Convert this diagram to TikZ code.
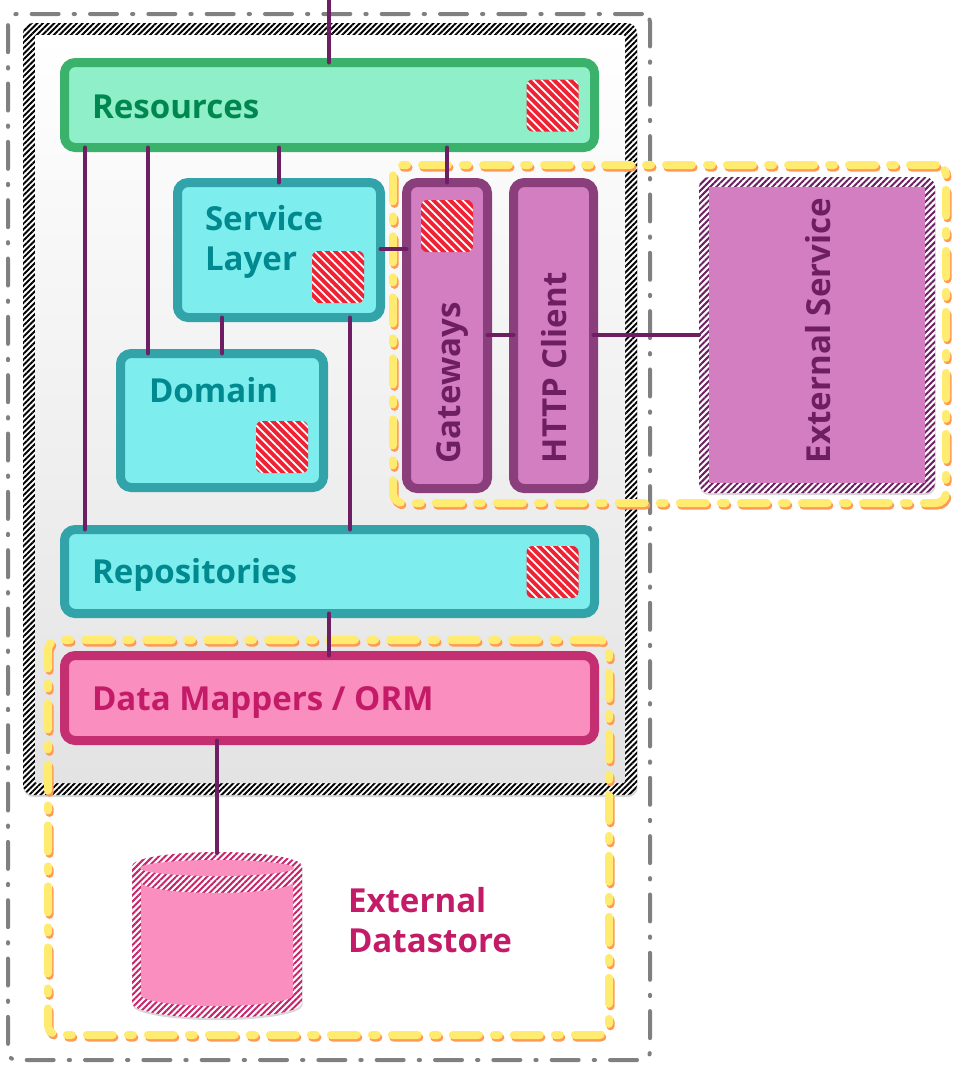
\documentclass[tikz,border=0pt]{standalone}
\usepackage{fontspec}
\setmainfont{Open Sans}
\usetikzlibrary{patterns.meta,shadows}
\definecolor{resfill}{HTML}{8EEFC9}
\definecolor{resdraw}{HTML}{3BB26B}
\definecolor{restext}{HTML}{00874F}
\definecolor{tealfill}{HTML}{7EEDEE}
\definecolor{tealdraw}{HTML}{33A3AA}
\definecolor{tealtext}{HTML}{008A8F}
\definecolor{purpfill}{HTML}{D37EC1}
\definecolor{purpdraw}{HTML}{8A3F7C}
\definecolor{purptext}{HTML}{6E1F62}
\definecolor{pinkfill}{HTML}{F98EBF}
\definecolor{pinkdraw}{HTML}{C32F70}
\definecolor{pinktext}{HTML}{C41B68}
\definecolor{conncol}{HTML}{6E1E62}
\definecolor{hatchred}{HTML}{EE2233}
\definecolor{yelcol}{HTML}{FFEB70}
\definecolor{orgcol}{HTML}{FF9A55}
\definecolor{greycol}{HTML}{808080}
\definecolor{hatchpink}{HTML}{C8236A}
\begin{document}
\begin{tikzpicture}[x=0.75pt,y=-0.75pt,
  sz/.style 2 args={minimum width=#1*0.75pt,minimum height=#2*0.75pt},
  box/.style={draw,line width=6.75pt,rounded corners=8pt,inner sep=0pt,outer sep=0pt},
  resbox/.style={box,draw=resdraw,fill=resfill},
  tealbox/.style={box,draw=tealdraw,fill=tealfill},
  purpbox/.style={box,draw=purpdraw,fill=purpfill},
  pinkbox/.style={box,draw=pinkdraw,fill=pinkfill},
  lbl/.style={font=\fontsize{24.8pt}{30pt}\selectfont\bfseries,inner sep=0pt,outer sep=0pt,anchor=base west},
  redsq/.style={sz={52}{52},inner sep=0pt,outer sep=0pt,rounded corners=4.5pt,fill=hatchred,
    postaction={pattern={Lines[angle=-45,distance=4.4pt,line width=1.3pt]},pattern color=white}},
  conn/.style={draw=conncol,line width=3pt,line cap=round},
  grp/.style={draw,line width=6pt,line cap=round,rounded corners=7.5pt,
    dash pattern=on 19.5pt off 11.25pt on 3.75pt off 11.25pt,inner sep=0pt,outer sep=0pt},
  softshadow/.style={drop shadow={shadow xshift=0.4pt,shadow yshift=-1.6pt,opacity=0.3}},
]
% canvas
\fill[white] (0,0) rectangle (964,1090);
\useasboundingbox (0,0) rectangle (964,1090);

% outer grey dash-dot frame
\node[sz={642}{1046},draw=greycol,line width=3pt,line cap=round,rounded corners=6pt,
  dash pattern=on 20.25pt off 11.25pt on 1pt off 11.25pt,inner sep=0pt] (outer) at (329,537) {};

% application box with hatched border
\node[sz={614}{772},inner sep=0pt,outer sep=0pt,rounded corners=7.5pt,fill=white,softshadow,
  postaction={pattern={Lines[angle=45,distance=3pt,line width=1.45pt]},pattern color=black}] (app) at (330,409) {};
\node[sz={590}{748},inner sep=0pt,outer sep=0pt,rounded corners=1.5pt,top color=white,bottom color=black!11] (appin) at (330,409) {};

% boxes
\node[resbox,sz={530}{85}] (res) at (329.5,105) {};
\node[lbl,text=restext] (rest) at (92,118) {Resources};
\node[redsq] (resq) at (552.5,105.5) {};

\node[tealbox,sz={203}{135}] (svc) at (279,250) {};
\node[lbl,text=tealtext] (svct1) at (205,230) {Service};
\node[lbl,text=tealtext] (svct2) at (205,270) {Layer};
\node[redsq] (svcq) at (338,277) {};

\node[tealbox,sz={203}{134}] (dom) at (222,420.5) {};
\node[lbl,text=tealtext] (domt) at (149,402) {Domain};
\node[redsq] (domq) at (282,447) {};

\node[purpbox,sz={81}{306}] (gw) at (447,335.5) {};
\node[redsq] (gwq) at (447,226) {};
\node[lbl,rotate=90,text=purptext] (gwt) at (460,463) {Gateways};

\node[purpbox,sz={80}{306}] (http) at (553.5,335.5) {};
\node[lbl,rotate=90,text=purptext] (httpt) at (566,463) {HTTP Client};

\node[tealbox,sz={530}{84}] (rep) at (329.5,571.5) {};
\node[lbl,text=tealtext] (rept) at (92,583) {Repositories};
\node[redsq] (repq) at (552.5,572) {};

\node[pinkbox,sz={530}{85}] (dm) at (329.5,698) {};
\node[lbl,text=pinktext] (dmt) at (92,710) {Data Mappers / ORM};

% external service
\node[sz={236}{316},inner sep=0pt,outer sep=0pt,rounded corners=7.5pt,fill=white,softshadow,
  postaction={pattern={Lines[angle=45,distance=3.3pt,line width=1.5pt]},pattern color=conncol}] (ext) at (817,335) {};
\node[sz={216}{296},inner sep=0pt,outer sep=0pt,fill=purpfill] (extin) at (817,335) {};
\node[lbl,rotate=90,text=purptext] (extt) at (830,463) {External Service};

% external datastore cylinder
\fill[white,softshadow,postaction={pattern={Lines[angle=45,distance=3.3pt,line width=1.5pt]},pattern color=hatchpink}]
  (132,866) -- (132,1003) arc[start angle=180,end angle=360,x radius=63.75pt,y radius=11.25pt]
  -- (302,866) arc[start angle=0,end angle=180,x radius=63.75pt,y radius=10.5pt] -- cycle;
\fill[pinkfill] (217,868) ellipse[x radius=57.75pt,y radius=6pt];
\fill[pinkfill] (141,882) arc[start angle=180,end angle=360,x radius=57pt,y radius=8.25pt]
  -- (293,995) arc[start angle=0,end angle=-180,x radius=57pt,y radius=8.25pt] -- cycle;
\coordinate (dbtop) at (217,853);
\node[lbl,text=pinktext] (dst1) at (348,912) {External};
\node[lbl,text=pinktext] (dst2) at (348,952) {Datastore};

% yellow group frames
\node[grp,draw=orgcol,sz={553}{338}] (grp1s) at (671,336.5) {};
\node[grp,draw=yelcol,sz={553}{338}] (grp1) at (669.5,334) {};
\node[grp,draw=orgcol,sz={561}{395}] (grp2s) at (330,840) {};
\node[grp,draw=yelcol,sz={561}{395}] (grp2) at (328.5,837.5) {};

% connectors
\coordinate (topin) at (329,0);
\coordinate (xA) at (85,0);
\coordinate (xB) at (148,0);
\coordinate (xC) at (279,0);
\coordinate (xD) at (447,0);
\coordinate (xE) at (222,0);
\coordinate (xF) at (350,0);
\coordinate (xG) at (329,0);
\coordinate (yA) at (0,249);
\coordinate (yB) at (0,335);
\draw[conn] (topin) -- (res.north -| topin);
\draw[conn] (res.south -| xA) -- (rep.north -| xA);
\draw[conn] (res.south -| xB) -- (dom.north -| xB);
\draw[conn] (res.south -| xC) -- (svc.north -| xC);
\draw[conn] (res.south -| xD) -- (gw.north -| xD);
\draw[conn] (svc.south -| xE) -- (dom.north -| xE);
\draw[conn] (svc.south -| xF) -- (rep.north -| xF);
\draw[conn] (svc.east |- yA) -- (gw.west |- yA);
\draw[conn] (gw.east |- yB) -- (http.west |- yB);
\draw[conn] (http.east |- yB) -- (ext.west |- yB);
\draw[conn] (rep.south -| xG) -- (dm.north -| xG);
\draw[conn] (dm.south -| dbtop) -- (dbtop);
\end{tikzpicture}
\end{document}
